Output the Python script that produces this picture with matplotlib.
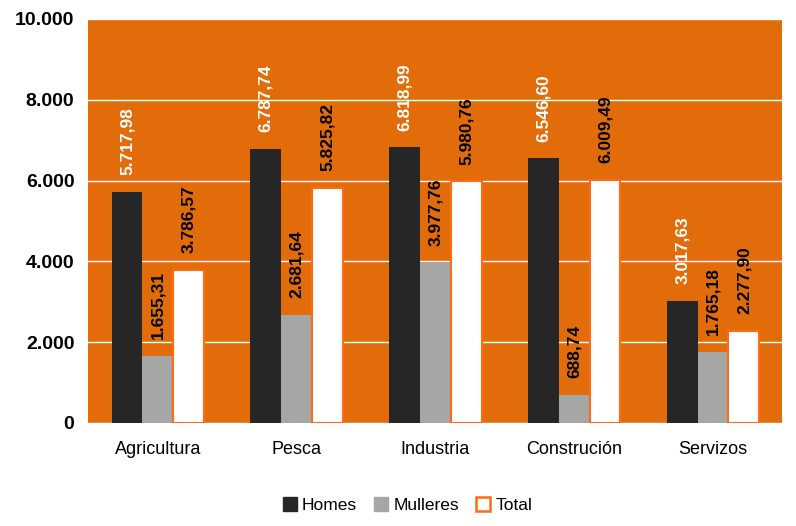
import numpy as np
import matplotlib.pyplot as plt
from matplotlib.ticker import FuncFormatter
from matplotlib.lines import Line2D

categories = ['Agricultura', 'Pesca', 'Industria', 'Construción', 'Servizos']
homes = [5717.98, 6787.74, 6818.99, 6546.60, 3017.63]
mulleres = [1655.31, 2681.64, 3977.76, 688.74, 1765.18]
total = [3786.57, 5825.82, 5980.76, 6009.49, 2277.90]

orange = '#E36C0A'
plt.rcParams['font.family'] = ['Liberation Sans', 'DejaVu Sans']


def fmt_es(v, dec=2):
    s = f'{v:,.{dec}f}'
    return s.replace(',', 'X').replace('.', ',').replace('X', '.')


fig = plt.figure(figsize=(7.96, 5.26), dpi=100)
ax = fig.add_axes([0.111, 0.196, 0.872, 0.768])
ax.set_facecolor(orange)

x = np.arange(len(categories))
w = 0.222
b1 = ax.bar(x - w, homes, w, color='#262626')
b2 = ax.bar(x, mulleres, w, color='#A6A6A6')
b3 = ax.bar(x + w, total, w, color='white', edgecolor='#FF6A13', linewidth=1.5)

for bars, vals, col in [(b1, homes, 'white'), (b2, mulleres, 'black'), (b3, total, 'black')]:
    for r, v in zip(bars, vals):
        ax.annotate(fmt_es(v), (r.get_x() + r.get_width() / 2, v),
                    xytext=(0, 12), textcoords='offset points',
                    rotation=90, ha='center', va='bottom',
                    color=col, fontsize=12.5, fontweight='bold')

ax.set_ylim(0, 10000)
ax.set_xlim(-0.5, 4.5)
ax.set_yticks(range(0, 10001, 2000))
ax.yaxis.set_major_formatter(FuncFormatter(lambda v, p: fmt_es(v, 0)))
ax.grid(axis='y', color='white', linewidth=1)
ax.set_axisbelow(True)
ax.set_xticks(x)
ax.set_xticklabels(categories, fontsize=13)
for lab in ax.get_yticklabels():
    lab.set_fontsize(14)
    lab.set_fontweight('bold')
ax.tick_params(length=0, pad=10)
ax.tick_params(axis='x', pad=13)
for s in ax.spines.values():
    s.set_visible(False)

handles = [
    Line2D([], [], marker='s', linestyle='none', markersize=10, markerfacecolor='#262626', markeredgecolor='#262626'),
    Line2D([], [], marker='s', linestyle='none', markersize=10, markerfacecolor='#A6A6A6', markeredgecolor='#A6A6A6'),
    Line2D([], [], marker='s', linestyle='none', markersize=10, markerfacecolor='white', markeredgecolor='#FF6A13', markeredgewidth=1.8),
]
fig.legend(handles, ['Homes', 'Mulleres', 'Total'], loc='lower center',
           bbox_to_anchor=(0.51, -0.005), ncol=3, frameon=False,
           handletextpad=0.1, columnspacing=0.8, handlelength=1.2,
           prop={'size': 12.5})

fig.savefig('out.png', dpi=100)
